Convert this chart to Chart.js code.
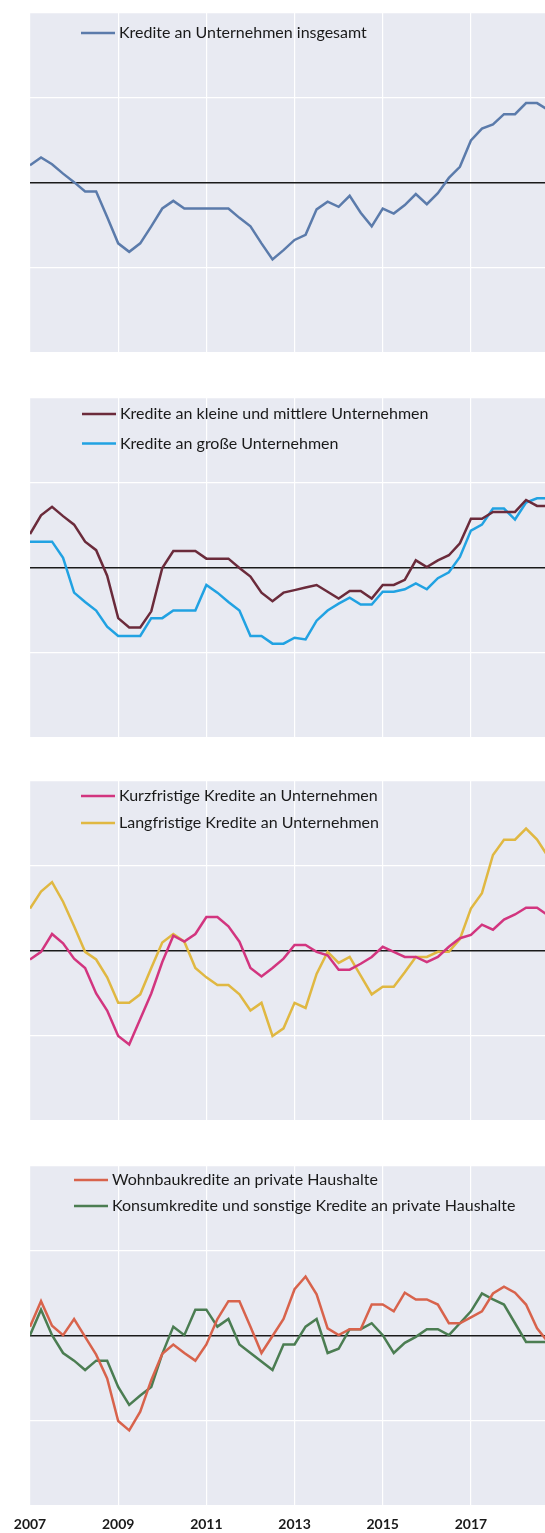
<!DOCTYPE html>
<html>
<head>
<meta charset="utf-8">
<script src="https://cdn.jsdelivr.net/npm/chart.js@4.4.1/dist/chart.umd.min.js"></script>
<style>
  body { margin: 0; background: #ffffff; }
  #wrap { position: relative; width: 545px; height: 1533px; }
  .panel { position: absolute; left: 0; }
</style>
</head>
<body>
<div id="wrap"></div>
<script>
// Quartalswerte 2007Q1 - 2018Q4
const startYear = 2007;
const tickLabels = ['2007', '2009', '2011', '2013', '2015', '2017'];

const kreditInsgesamt = [0.21, 0.30, 0.22, 0.11, 0.01, -0.10, -0.10, -0.40, -0.71, -0.81, -0.71, -0.51,
  -0.30, -0.21, -0.30, -0.30, -0.30, -0.30, -0.30, -0.41, -0.51, -0.71, -0.90, -0.79,
  -0.67, -0.61, -0.31, -0.22, -0.28, -0.15, -0.35, -0.51, -0.30, -0.36, -0.26, -0.13,
  -0.25, -0.12, 0.06, 0.19, 0.50, 0.64, 0.69, 0.81, 0.81, 0.94, 0.94, 0.86];

const kreditKmu = [0.40, 0.62, 0.72, 0.61, 0.51, 0.31, 0.21, -0.09, -0.59, -0.70, -0.70, -0.51,
  0.00, 0.20, 0.20, 0.20, 0.11, 0.11, 0.11, 0.00, -0.10, -0.29, -0.39, -0.29,
  -0.26, -0.23, -0.20, -0.28, -0.36, -0.27, -0.27, -0.36, -0.20, -0.20, -0.14, 0.09,
  0.01, 0.09, 0.15, 0.29, 0.58, 0.58, 0.66, 0.66, 0.66, 0.80, 0.73, 0.73];

const kreditGross = [0.31, 0.31, 0.31, 0.12, -0.29, -0.40, -0.50, -0.69, -0.80, -0.80, -0.80, -0.59,
  -0.59, -0.50, -0.50, -0.50, -0.20, -0.29, -0.40, -0.50, -0.80, -0.80, -0.89, -0.89,
  -0.82, -0.84, -0.62, -0.50, -0.42, -0.35, -0.43, -0.43, -0.28, -0.28, -0.25, -0.18,
  -0.25, -0.12, -0.05, 0.13, 0.44, 0.51, 0.70, 0.70, 0.57, 0.77, 0.82, 0.82];

const kreditKurz = [-0.10, -0.01, 0.20, 0.09, -0.09, -0.20, -0.50, -0.70, -1.00, -1.10, -0.80, -0.50,
  -0.13, 0.18, 0.11, 0.20, 0.40, 0.40, 0.29, 0.11, -0.20, -0.30, -0.20, -0.09,
  0.07, 0.07, -0.01, -0.05, -0.22, -0.22, -0.15, -0.07, 0.05, -0.01, -0.07, -0.07,
  -0.13, -0.07, 0.05, 0.15, 0.19, 0.31, 0.25, 0.37, 0.43, 0.51, 0.51, 0.42];

const kreditLang = [0.50, 0.70, 0.81, 0.58, 0.29, -0.01, -0.10, -0.31, -0.61, -0.61, -0.51, -0.20,
  0.10, 0.20, 0.11, -0.20, -0.31, -0.40, -0.40, -0.51, -0.70, -0.61, -1.00, -0.91,
  -0.61, -0.67, -0.27, -0.01, -0.14, -0.07, -0.29, -0.51, -0.42, -0.42, -0.25, -0.07,
  -0.07, -0.01, -0.01, 0.14, 0.50, 0.68, 1.13, 1.31, 1.31, 1.44, 1.31, 1.11];

const kreditWohnbau = [0.11, 0.41, 0.12, 0.01, 0.20, -0.01, -0.22, -0.50, -1.00, -1.11, -0.89, -0.52,
  -0.21, -0.10, -0.20, -0.29, -0.10, 0.20, 0.41, 0.41, 0.11, -0.20, 0.00, 0.20,
  0.55, 0.70, 0.49, 0.09, 0.01, 0.08, 0.08, 0.37, 0.37, 0.29, 0.51, 0.43,
  0.43, 0.37, 0.15, 0.15, 0.22, 0.29, 0.50, 0.58, 0.51, 0.37, 0.09, -0.07];

const kreditKonsum = [0.01, 0.31, 0.01, -0.20, -0.29, -0.40, -0.29, -0.29, -0.60, -0.81, -0.70, -0.60,
  -0.21, 0.11, 0.01, 0.31, 0.31, 0.11, 0.20, -0.10, -0.20, -0.30, -0.40, -0.10,
  -0.10, 0.11, 0.20, -0.20, -0.15, 0.08, 0.08, 0.15, 0.01, -0.20, -0.08, -0.01,
  0.08, 0.08, 0.01, 0.15, 0.29, 0.50, 0.43, 0.37, 0.15, -0.07, -0.07, -0.07];

// Panels
const panels = [
  { top: 13, ticks: false, legend: { x: 51, y: 20, gap: 28 },
    series: [{ label: 'Kredite an Unternehmen insgesamt', data: kreditInsgesamt, color: '#5b7bab' }] },
  { top: 398, ticks: false, legend: { x: 52, y: 16, gap: 29.5 },
    series: [{ label: 'Kredite an kleine und mittlere Unternehmen', data: kreditKmu, color: '#6b2b3b' },
             { label: 'Kredite an große Unternehmen', data: kreditGross, color: '#21a2e2' }] },
  { top: 781, ticks: false, legend: { x: 51, y: 15, gap: 27 },
    series: [{ label: 'Kurzfristige Kredite an Unternehmen', data: kreditKurz, color: '#d2357f' },
             { label: 'Langfristige Kredite an Unternehmen', data: kreditLang, color: '#e0b842' }] },
  { top: 1166, ticks: true, legend: { x: 44, y: 14, gap: 26 },
    series: [{ label: 'Wohnbaukredite an private Haushalte', data: kreditWohnbau, color: '#d8634c' },
             { label: 'Konsumkredite und sonstige Kredite an private Haushalte', data: kreditKonsum, color: '#4b7d52' }] },
];

// Hintergrund der Zeichenfläche
const bgPlugin = {
  id: 'bg',
  beforeDraw(chart) {
    const a = chart.chartArea, c = chart.ctx;
    c.save();
    c.fillStyle = '#e8eaf2';
    c.fillRect(a.left, a.top, a.right - a.left, a.bottom - a.top);
    c.restore();
  }
};

// Legende innerhalb der Zeichenfläche
const legendPlugin = {
  id: 'innerLegend',
  afterDraw(chart, args, opts) {
    const a = chart.chartArea, c = chart.ctx;
    c.save();
    chart.data.datasets.forEach((ds, i) => {
      const y = a.top + opts.y + i * opts.gap;
      const x = a.left + opts.x;
      c.strokeStyle = ds.borderColor;
      c.lineWidth = 2.5;
      c.beginPath();
      c.moveTo(x, y);
      c.lineTo(x + 34, y);
      c.stroke();
      c.fillStyle = '#1a1a1a';
      c.font = '16px Lato';
      c.textBaseline = 'middle';
      c.fillText(ds.label, x + 38, y);
    });
    c.restore();
  }
};

const wrap = document.getElementById('wrap');
panels.forEach(p => {
  const h = p.ticks ? 372 : 340;
  const div = document.createElement('div');
  div.className = 'panel';
  div.style.top = p.top + 'px';
  const cv = document.createElement('canvas');
  cv.width = 545;
  cv.height = h;
  div.appendChild(cv);
  wrap.appendChild(div);

  new Chart(cv, {
    type: 'line',
    data: {
      datasets: p.series.map(s => ({
        label: s.label,
        data: s.data.map((v, i) => ({ x: i / 4, y: v })),
        borderColor: s.color,
        borderWidth: 2.5,
        pointRadius: 0,
        tension: 0,
      }))
    },
    options: {
      responsive: false,
      animation: false,
      layout: { padding: 0 },
      plugins: {
        legend: { display: false },
        tooltip: { enabled: false },
        innerLegend: p.legend,
      },
      scales: {
        x: {
          type: 'linear',
          min: 0,
          max: 11.68,
          border: { display: false },
          grid: { color: '#ffffff', lineWidth: 1.2, drawTicks: false },
          ticks: {
            display: p.ticks,
            stepSize: 2,
            includeBounds: false,
            maxRotation: 0,
            padding: 10,
            color: '#1a1a1a',
            font: { family: 'Lato', size: 14, weight: 'bold' },
            callback: v => tickLabels[v / 2],
          },
          afterFit(s) { s.height = p.ticks ? 32 : 0; },
        },
        y: {
          min: -2,
          max: 2,
          border: { display: false },
          grid: {
            drawTicks: false,
            color: c => c.tick.value === 0 ? '#1a1a1a' : '#ffffff',
            lineWidth: c => c.tick.value === 0 ? 1.5 : 1.2,
          },
          ticks: { display: false, stepSize: 1 },
          afterFit(s) { s.width = 30; },
        },
      },
    },
    plugins: [bgPlugin, legendPlugin],
  });
});
</script>
</body>
</html>
